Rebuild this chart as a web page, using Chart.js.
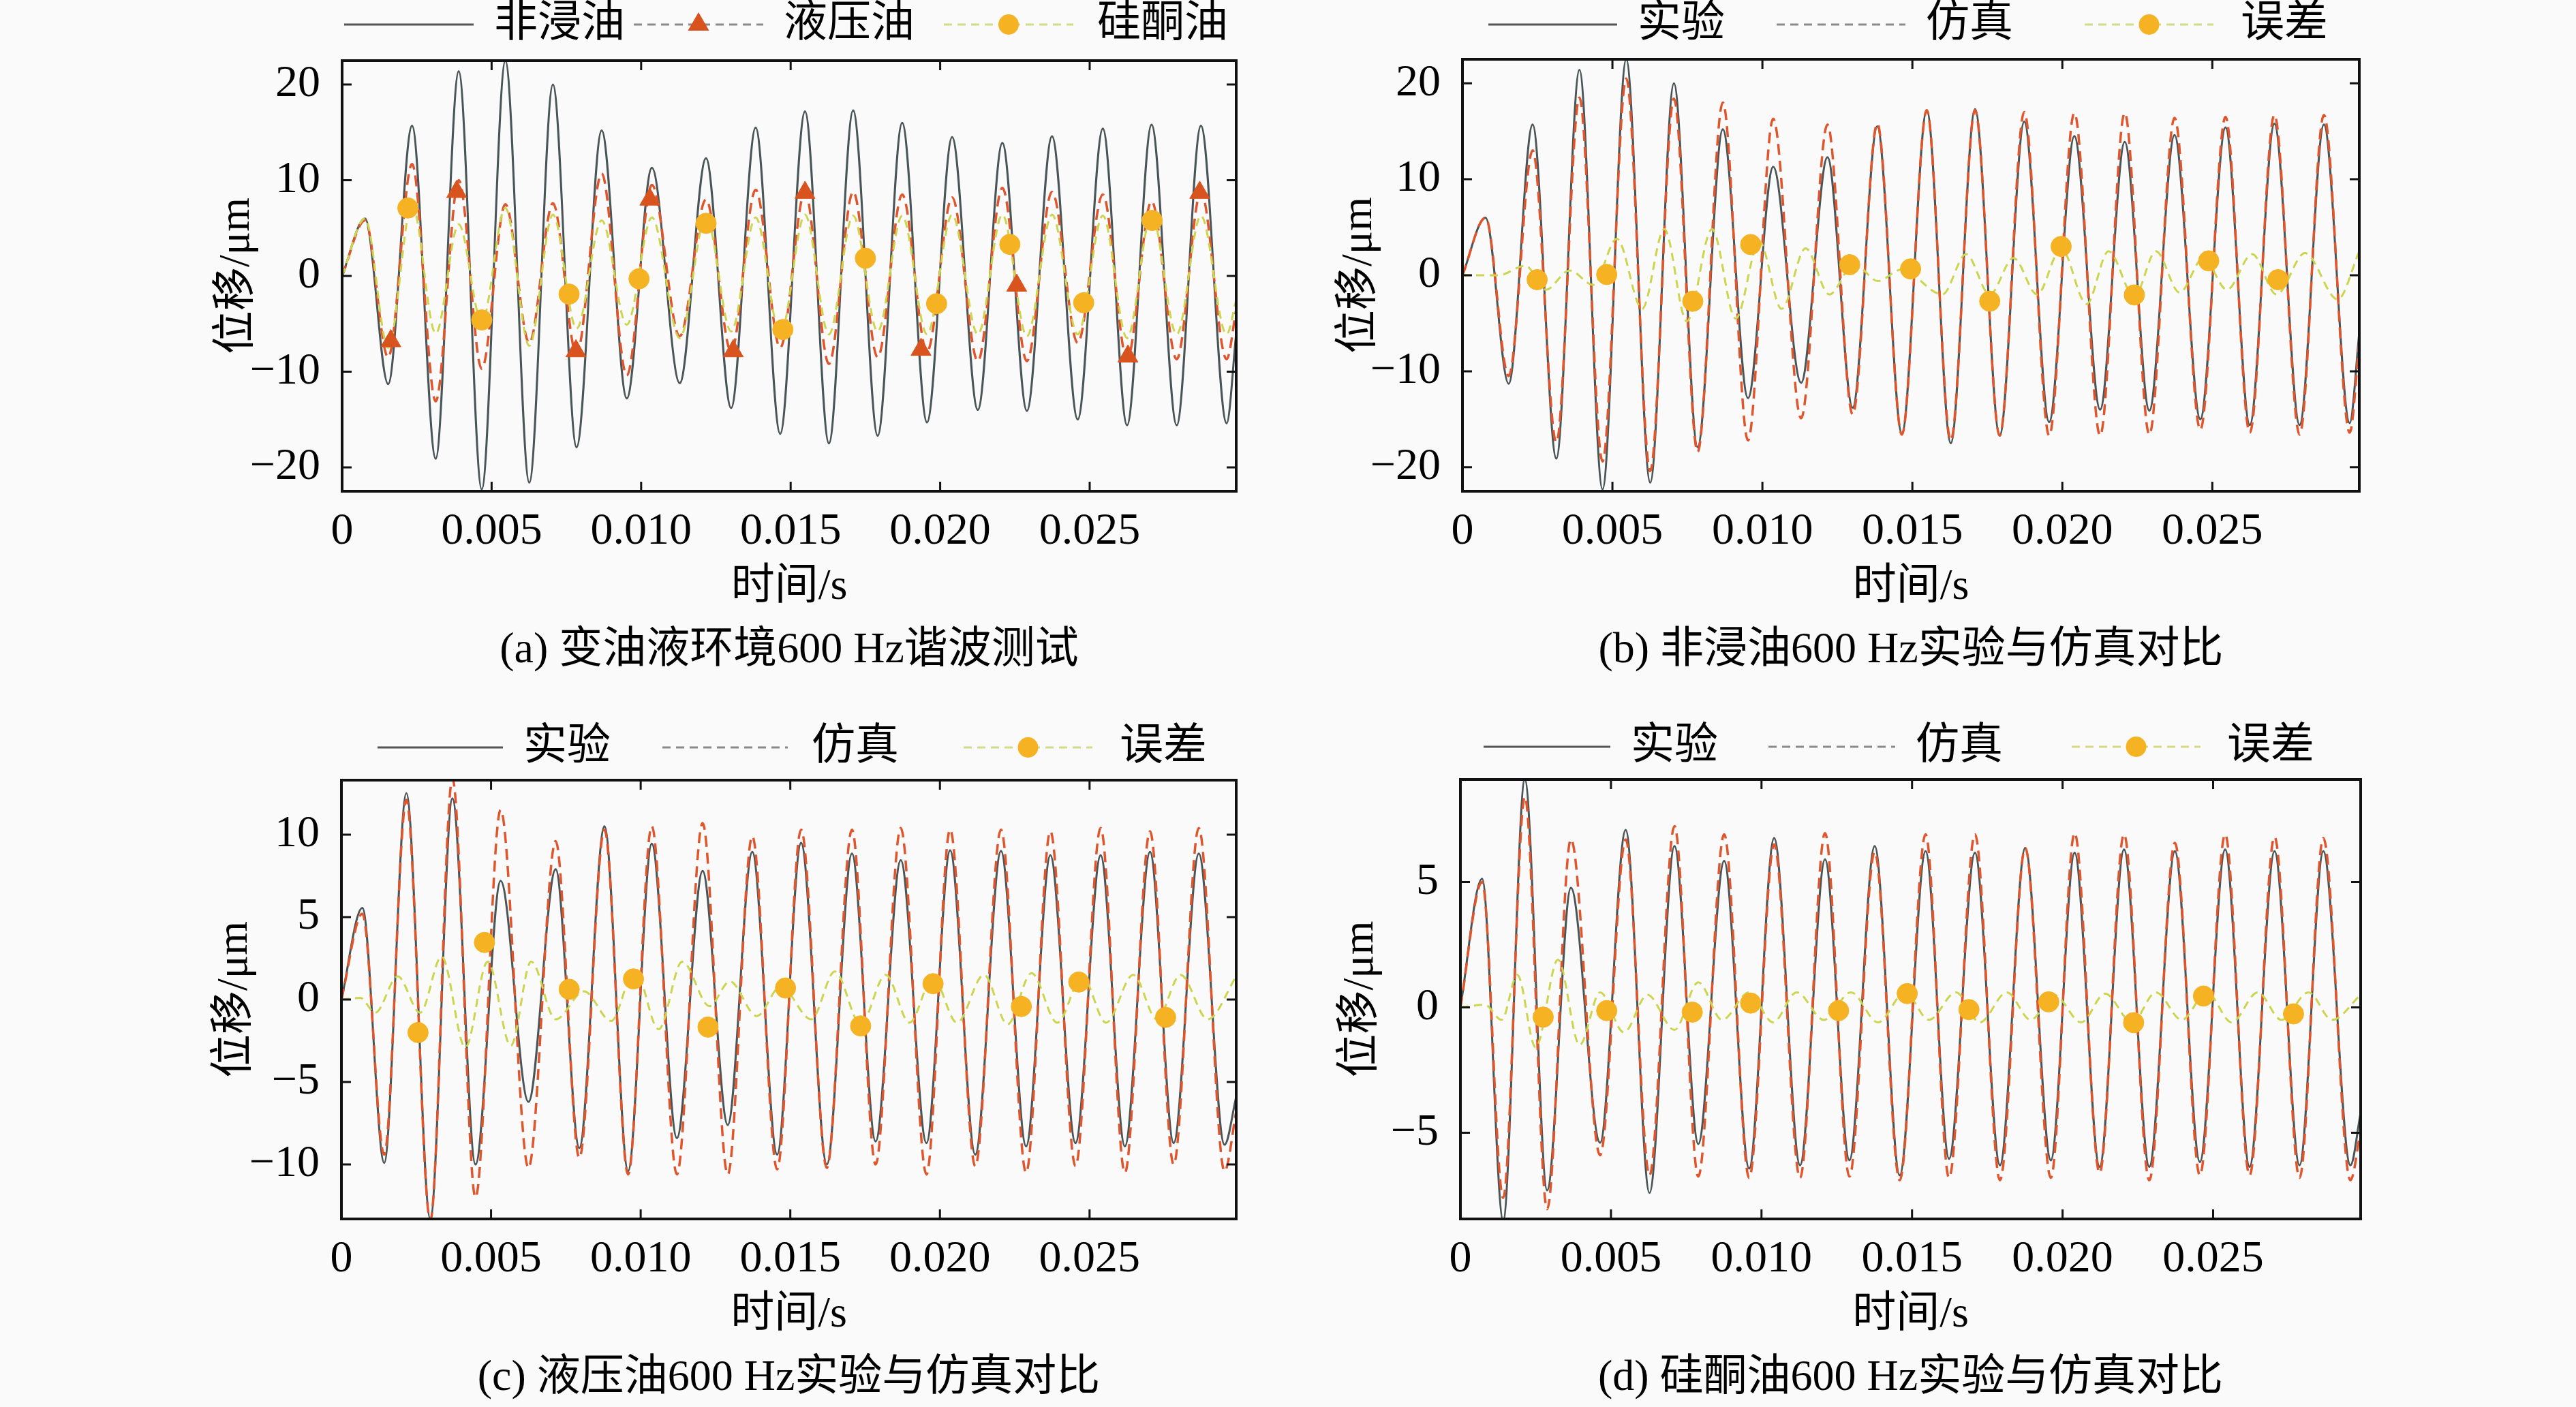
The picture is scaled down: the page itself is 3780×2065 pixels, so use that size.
<!DOCTYPE html>
<html>
<head>
<meta charset="utf-8">
<script src="https://cdn.jsdelivr.net/npm/chart.js@4.4.1/dist/chart.umd.min.js"></script>
<style>
html, body { margin: 0; padding: 0; background: #fafafa; }
#wrap { position: relative; width: 3780px; height: 2065px; }
canvas { position: absolute; }
</style>
</head>
<body>
<div id="wrap">
<canvas id="pa" width="1890" height="1032" style="left:0;top:0"></canvas>
<canvas id="pb" width="1890" height="1032" style="left:1890px;top:0"></canvas>
<canvas id="pc" width="1890" height="1033" style="left:0;top:1032px"></canvas>
<canvas id="pd" width="1890" height="1033" style="left:1890px;top:1032px"></canvas>
</div>
<script>
// tick labels
const xTicks = [0, 0.005, 0.010, 0.015, 0.020, 0.025];
const abTicks = [-20, -10, 0, 10, 20];
const cTicks = [-10, -5, 0, 5, 10];
const dTicks = [-5, 0, 5];

// turning points (s) of the 600 Hz response, panels (a) and (b)
const abT = [0, 0.00077, 0.00154, 0.00234, 0.00313, 0.0039, 0.00467, 0.00546, 0.00626, 0.00705,
    0.00784, 0.00868, 0.00952, 0.01036, 0.01129, 0.01217, 0.01301, 0.01383, 0.01465, 0.01548,
    0.01628, 0.01709, 0.01791, 0.01873, 0.01956, 0.0204, 0.02126, 0.02208, 0.0229, 0.02374,
    0.0246, 0.02544, 0.02625, 0.02707, 0.02791, 0.02872, 0.02958, 0.0299];
const dryExp = [0, 6.0, -11.3, 15.7, -19.1, 21.4, -22.3, 22.5, -21.6, 20.0,
    -17.9, 15.2, -12.8, 11.3, -11.2, 12.3, -13.8, 15.5, -16.5, 17.2,
    -17.5, 17.3, -16.7, 16.0, -15.3, 14.5, -14.0, 13.9, -14.1, 14.6,
    -15.0, 15.4, -15.6, 15.8, -15.6, 15.7, -15.4, -6];
const hydOil = [0, 5.8, -8.5, 11.7, -13.1, 10.0, -9.7, 7.5, -7.0, 7.6,
    -8.2, 10.7, -10.4, 9.5, -6.3, 8.0, -7.9, 9.0, -7.5, 8.8,
    -9.2, 8.8, -8.5, 8.5, -7.9, 8.2, -8.9, 9.2, -8.9, 8.8,
    -7.0, 8.5, -8.7, 7.8, -8.7, 8.8, -8.7, -3.5];
const silOil = [0, 6.0, -7.5, 7.5, -6.0, 5.4, -4.8, 7.1, -7.3, 6.4,
    -5.5, 5.8, -5.1, 6.1, -6.5, 6.2, -5.8, 6.1, -6.1, 6.4,
    -6.1, 6.3, -5.8, 6.3, -6.1, 6.4, -6.1, 6.4, -6.3, 6.4,
    -6.1, 6.3, -6.5, 6.4, -6.1, 6.3, -6.1, -2.5];
const dryFe = [0, 6.0, -10.5, 13.0, -17.4, 18.5, -19.4, 20.5, -20.4, 18.4,
    -18.4, 18.0, -17.2, 16.3, -14.9, 15.7, -14.5, 15.8, -16.6, 17.2,
    -17.2, 17.2, -16.7, 17.0, -16.7, 16.9, -16.7, 16.9, -16.6, 16.4,
    -16.1, 16.5, -16.4, 16.7, -16.6, 16.7, -16.4, -7];
const bErrT = [0, 0.0012, 0.0021, 0.00278, 0.00357, 0.00436, 0.00515, 0.00599, 0.00673, 0.00748,
    0.00832, 0.00911, 0.0099, 0.01064, 0.01144, 0.01223, 0.01306, 0.01385, 0.01464, 0.016,
    0.01679, 0.01758, 0.01837, 0.01916, 0.01996, 0.02081, 0.02154, 0.0224, 0.02312, 0.02391,
    0.0247, 0.02549, 0.02633, 0.02714, 0.02809, 0.02918, 0.0299];
const bErr = [0, 0, 1.0, -1.5, 0.5, -1.0, 3.8, -3.5, 4.8, -4.8,
    4.8, -4.5, 3.5, -3.5, 2.8, -2.0, 1.2, -0.6, 0.6, -2.0,
    2.2, -2.0, 1.8, -2.0, 2.8, -3.0, 2.5, -2.2, 2.5, -1.8,
    1.8, -1.5, 2.2, -2.0, 2.3, -2.5, 2.5];

// panel (c): hydraulic oil
const cT = [0, 0.0007, 0.00143, 0.00217, 0.00297, 0.00371, 0.00448, 0.00532, 0.00625, 0.00716,
    0.00795, 0.00879, 0.00958, 0.01037, 0.01121, 0.01207, 0.01291, 0.01373, 0.01456, 0.01536,
    0.01622, 0.01706, 0.01785, 0.01869, 0.01955, 0.02034, 0.02118, 0.02204, 0.02288, 0.02369,
    0.02453, 0.02537, 0.02618, 0.02702, 0.02781, 0.02865, 0.02951, 0.0299];
const hydExp = [0, 5.56, -9.9, 12.5, -13.3, 12.2, -10.0, 7.2, -6.2, 7.9,
    -9.0, 10.5, -10.4, 9.45, -8.4, 7.8, -7.6, 8.95, -9.4, 9.5,
    -10.0, 8.85, -8.6, 8.45, -8.7, 9.05, -9.4, 9.0, -8.9, 8.75,
    -8.7, 8.75, -8.9, 8.95, -8.7, 8.85, -8.8, -5.9];
const hydFe = [0, 5.2, -9.4, 12.1, -13.4, 13.4, -12.0, 11.5, -10.2, 9.6,
    -9.6, 10.3, -10.6, 10.5, -10.6, 10.7, -10.6, 9.9, -10.3, 10.3,
    -10.2, 10.3, -10.0, 10.4, -10.6, 10.3, -10.1, 10.3, -10.5, 10.2,
    -10.1, 10.4, -10.5, 10.2, -10.0, 10.4, -10.4, -6.8];
const cErrT = [0, 0.00063, 0.00113, 0.00188, 0.00263, 0.00335, 0.00414, 0.00489, 0.00566, 0.00634,
    0.00716, 0.00811, 0.00901, 0.00981, 0.0106, 0.01139, 0.0123, 0.01298, 0.01388, 0.01468,
    0.0157, 0.01649, 0.01735, 0.01819, 0.01898, 0.01977, 0.02057, 0.02147, 0.02226, 0.02306,
    0.02392, 0.02476, 0.02555, 0.02646, 0.02725, 0.02804, 0.02895, 0.0299];
const cErr = [0, 0.1, -0.8, 1.4, -0.8, 2.6, -2.9, 2.3, -2.8, 2.3,
    -1.2, 0.5, -1.3, 1.8, -1.8, 2.3, -0.4, 1.1, -1.0, 0.8,
    -1.2, 1.7, -1.5, 1.5, -1.4, 1.3, -1.4, 1.5, -1.5, 1.6,
    -1.4, 1.4, -1.4, 1.5, -1.2, 1.5, -1.2, 1.4];

// panel (d): silicone oil
const dT = [0, 0.00072, 0.00142, 0.00214, 0.00288, 0.00367, 0.00464, 0.00549, 0.00628, 0.00711,
    0.0079, 0.00876, 0.00959, 0.01042, 0.01128, 0.01211, 0.01292, 0.01376, 0.01459, 0.01545,
    0.01623, 0.01709, 0.01792, 0.01876, 0.01961, 0.0204, 0.02123, 0.02204, 0.02288, 0.02373,
    0.02456, 0.0254, 0.02621, 0.02704, 0.02787, 0.02866, 0.02956, 0.0299];
const silExp = [0, 5.13, -8.5, 9.1, -7.3, 4.77, -5.4, 7.08, -7.4, 6.43,
    -5.45, 5.84, -6.43, 6.75, -6.3, 5.9, -6.1, 6.43, -6.7, 6.23,
    -6.04, 6.17, -6.3, 6.36, -6.1, 6.17, -6.36, 6.3, -6.36, 6.23,
    -6.17, 6.3, -6.36, 6.23, -6.3, 6.23, -6.3, -4.2];
const silFe = [0, 5.0, -7.6, 8.4, -8.05, 6.7, -5.9, 6.7, -6.7, 7.23,
    -6.75, 6.9, -6.8, 6.5, -6.8, 6.95, -6.75, 6.2, -6.9, 6.9,
    -6.8, 6.9, -6.9, 6.36, -6.8, 6.95, -6.6, 6.9, -6.9, 6.56,
    -6.7, 6.9, -6.7, 6.8, -6.8, 6.75, -6.9, -4.9];
const dErrT = [0, 0.00081, 0.00137, 0.00189, 0.0025, 0.00324, 0.00396, 0.00464, 0.00543, 0.00621,
    0.00711, 0.0079, 0.00869, 0.00959, 0.01038, 0.01117, 0.01207, 0.01297, 0.01387, 0.01477,
    0.01556, 0.01646, 0.01725, 0.01815, 0.01894, 0.01972, 0.02062, 0.02141, 0.02231, 0.0231,
    0.02396, 0.02479, 0.02562, 0.02648, 0.02727, 0.02817, 0.02895, 0.0299];
const dErr = [0, 0.1, -0.5, 1.3, -1.6, 1.9, -1.5, 0.6, -1.0, 0.5,
    -0.9, 1.0, -0.5, 0.6, -0.6, 0.6, -0.5, 0.6, -0.6, 0.6,
    -0.5, 0.6, -0.6, 0.6, -0.5, 0.5, -0.6, 0.55, -0.6, 0.6,
    -0.5, 0.6, -0.6, 0.6, -0.5, 0.6, -0.5, 0.5];

// marker positions
const aTriT = [0.00163, 0.00383, 0.00782, 0.01029, 0.01308, 0.01548, 0.01936, 0.02256, 0.02628, 0.02868];
const aTriV = [-6.8, 8.8, -7.85, 8.0, -7.85, 8.7, -7.7, -1.0, -8.4, 8.7];
const aCirT = [0.0022, 0.00467, 0.00759, 0.00993, 0.01217, 0.01474, 0.0175, 0.01988, 0.02233, 0.0248, 0.02709];
const aCirV = [7.1, -4.6, -1.9, -0.3, 5.5, -5.6, 1.85, -2.9, 3.3, -2.8, 5.8];
const bMkT = [0.00249, 0.00481, 0.00768, 0.00961, 0.01291, 0.01494, 0.01758, 0.01996, 0.0224, 0.02488, 0.02719];
const bMkV = [-0.46, 0.08, -2.7, 3.2, 1.1, 0.66, -2.7, 3.0, -2.05, 1.5, -0.46];
const cMkT = [0.00256, 0.00478, 0.00761, 0.00976, 0.01225, 0.01484, 0.01735, 0.01977, 0.02272, 0.02464, 0.02754];
const cMkV = [-2.0, 3.46, 0.62, 1.25, -1.67, 0.70, -1.6, 0.96, -0.42, 1.06, -1.08];
const dMkT = [0.00275, 0.00486, 0.0077, 0.00964, 0.01256, 0.01484, 0.01689, 0.01954, 0.02236, 0.02468, 0.02767];
const dMkV = [-0.39, -0.13, -0.19, 0.17, -0.13, 0.55, -0.09, 0.22, -0.61, 0.45, -0.26];

const SERIF = '"Liberation Serif", "Noto Sans CJK SC", serif';
const TRI = '#d9531e';
const CIR = '#f5b324';

const solid = { color: '#4a5557', width: 3, dash: [] };
const dashed = { color: '#e0552c', width: 3.5, dash: [16, 9] };
const dotted = { color: '#cdd44e', width: 3, dash: [12, 8] };

function pts(ts, vs) {
    return ts.map((t, i) => ({ x: t, y: vs[i] }));
}

function lineSet(ts, vs, st, order) {
    return {
        data: pts(ts, vs), borderColor: st.color, borderWidth: st.width, borderDash: st.dash,
        pointRadius: 0, cubicInterpolationMode: 'monotone', fill: false, order: order
    };
}

function markSet(ts, vs, shape, color, r) {
    return {
        data: pts(ts, vs), showLine: false, pointStyle: shape, pointRadius: r,
        backgroundColor: color, borderColor: color, borderWidth: 1, order: 0
    };
}

function drawMark(ctx, shape, x, y, r, color) {
    ctx.fillStyle = color;
    ctx.beginPath();
    if (shape === 'triangle') {
        ctx.moveTo(x, y - r);
        ctx.lineTo(x + r * 0.866, y + r * 0.5);
        ctx.lineTo(x - r * 0.866, y + r * 0.5);
        ctx.closePath();
    } else {
        ctx.arc(x, y, r, 0, Math.PI * 2);
    }
    ctx.fill();
}

// box, inward ticks, legend and titles
const framePlugin = {
    id: 'frame',
    afterDraw(chart, args, opts) {
        const ctx = chart.ctx;
        const a = chart.chartArea;
        const xs = chart.scales.x, ys = chart.scales.y;
        ctx.save();
        ctx.strokeStyle = '#111';
        ctx.lineWidth = 3;
        ctx.beginPath();
        xs.ticks.forEach(t => {
            const p = xs.getPixelForValue(t.value);
            ctx.moveTo(p, a.bottom); ctx.lineTo(p, a.bottom - 14);
            ctx.moveTo(p, a.top); ctx.lineTo(p, a.top + 14);
        });
        ys.ticks.forEach(t => {
            const p = ys.getPixelForValue(t.value);
            ctx.moveTo(a.left, p); ctx.lineTo(a.left + 14, p);
            ctx.moveTo(a.right, p); ctx.lineTo(a.right - 14, p);
        });
        ctx.stroke();
        ctx.lineWidth = 4;
        ctx.strokeRect(a.left, a.top, a.right - a.left, a.bottom - a.top);

        ctx.fillStyle = '#000';
        ctx.font = '64px ' + SERIF;
        ctx.textAlign = 'center';
        ctx.textBaseline = 'middle';
        const cx = (a.left + a.right) / 2;
        ctx.fillText('时间/s', cx, a.bottom + 141);
        ctx.fillText(opts.caption, cx, a.bottom + 234);
        ctx.save();
        ctx.translate(opts.yTitleX, (a.top + a.bottom) / 2);
        ctx.rotate(-Math.PI / 2);
        ctx.fillText('位移/μm', 0, 0);
        ctx.restore();

        opts.legend.forEach(it => {
            ctx.strokeStyle = it.color;
            ctx.lineWidth = 3;
            ctx.setLineDash(it.dash);
            ctx.beginPath();
            ctx.moveTo(it.x1, opts.legendY);
            ctx.lineTo(it.x2, opts.legendY);
            ctx.stroke();
            ctx.setLineDash([]);
            if (it.mark === 'triangle') drawMark(ctx, 'triangle', (it.x1 + it.x2) / 2, opts.legendY, 18, TRI);
            if (it.mark === 'circle') drawMark(ctx, 'circle', (it.x1 + it.x2) / 2, opts.legendY, 15, CIR);
            ctx.fillStyle = '#000';
            ctx.textAlign = 'left';
            ctx.fillText(it.text, it.tx, opts.legendY);
        });
        ctx.restore();
    }
};

function makePanel(id, area, yMin, yMax, yTicks, datasets, frame) {
    const cv = document.getElementById(id);
    const tickFont = { size: 66, family: SERIF };
    new Chart(cv, {
        type: 'line',
        data: { datasets: datasets },
        options: {
            responsive: false,
            animation: false,
            devicePixelRatio: 1,
            events: [],
            layout: { padding: { left: 0, top: area.top, right: cv.width - area.right, bottom: 0 } },
            plugins: { legend: { display: false }, tooltip: { enabled: false }, frame: frame },
            scales: {
                x: {
                    type: 'linear', min: 0, max: 0.0299,
                    grid: { display: false }, border: { display: false },
                    ticks: {
                        maxRotation: 0, autoSkip: false, padding: 12,
                        color: '#000', font: tickFont,
                        callback: v => v === 0 ? '0' : v.toFixed(3)
                    },
                    afterBuildTicks: s => { s.ticks = xTicks.map(v => ({ value: v })); },
                    afterFit: s => { s.height = cv.height - area.bottom; }
                },
                y: {
                    type: 'linear', min: yMin, max: yMax,
                    grid: { display: false }, border: { display: false },
                    ticks: {
                        padding: 24, color: '#000', font: tickFont,
                        callback: v => String(v).replace('-', '\u2212')
                    },
                    afterBuildTicks: s => { s.ticks = yTicks.map(v => ({ value: v })); },
                    afterFit: s => { s.width = area.left; }
                }
            }
        },
        plugins: [framePlugin]
    });
}

function legendItems(names, pos) {
    return [
        { x1: pos[0], x2: pos[1], tx: pos[2], text: names[0], color: '#555', dash: [] },
        { x1: pos[3], x2: pos[4], tx: pos[5], text: names[1], color: '#8a8a8a', dash: [12, 8], mark: names[3] },
        { x1: pos[6], x2: pos[7], tx: pos[8], text: names[2], color: '#d3da88', dash: [12, 8], mark: 'circle' }
    ];
}

makePanel('pa', { left: 502, top: 89, right: 1814, bottom: 721 }, -22.5, 22.5, abTicks, [
    markSet(aTriT, aTriV, 'triangle', TRI, 17),
    markSet(aCirT, aCirV, 'circle', CIR, 15),
    lineSet(abT, silOil, dotted, 1),
    lineSet(abT, hydOil, dashed, 2),
    lineSet(abT, dryExp, solid, 3)
], {
    caption: '(a) 变油液环境600 Hz谐波测试', yTitleX: 348, legendY: 36,
    legend: legendItems(['非浸油', '液压油', '硅酮油', 'triangle'], [505, 695, 725, 930, 1120, 1150, 1385, 1575, 1610])
});

makePanel('pb', { left: 256, top: 87, right: 1572, bottom: 721 }, -22.5, 22.5, abTicks, [
    markSet(bMkT, bMkV, 'circle', CIR, 15),
    lineSet(bErrT, bErr, dotted, 1),
    lineSet(abT, dryFe, dashed, 2),
    lineSet(abT, dryExp, solid, 3)
], {
    caption: '(b) 非浸油600 Hz实验与仿真对比', yTitleX: 105, legendY: 36,
    legend: legendItems(['实验', '仿真', '误差', null], [294, 483, 513, 717, 906, 936, 1169, 1358, 1398])
});

makePanel('pc', { left: 501, top: 113, right: 1814, bottom: 757 }, -13.3, 13.3, cTicks, [
    markSet(cMkT, cMkV, 'circle', CIR, 15),
    lineSet(cErrT, cErr, dotted, 1),
    lineSet(cT, hydFe, dashed, 2),
    lineSet(cT, hydExp, solid, 3)
], {
    caption: '(c) 液压油600 Hz实验与仿真对比', yTitleX: 345, legendY: 65,
    legend: legendItems(['实验', '仿真', '误差', null], [554, 738, 768, 972, 1156, 1191, 1414, 1603, 1643])
});

makePanel('pd', { left: 253, top: 112, right: 1574, bottom: 757 }, -8.44, 9.09, dTicks, [
    markSet(dMkT, dMkV, 'circle', CIR, 15),
    lineSet(dErrT, dErr, dotted, 1),
    lineSet(dT, silFe, dashed, 2),
    lineSet(dT, silExp, solid, 3)
], {
    caption: '(d) 硅酮油600 Hz实验与仿真对比', yTitleX: 107, legendY: 64,
    legend: legendItems(['实验', '仿真', '误差', null], [287, 473, 503, 705, 891, 921, 1150, 1339, 1378])
});
</script>
</body>
</html>
